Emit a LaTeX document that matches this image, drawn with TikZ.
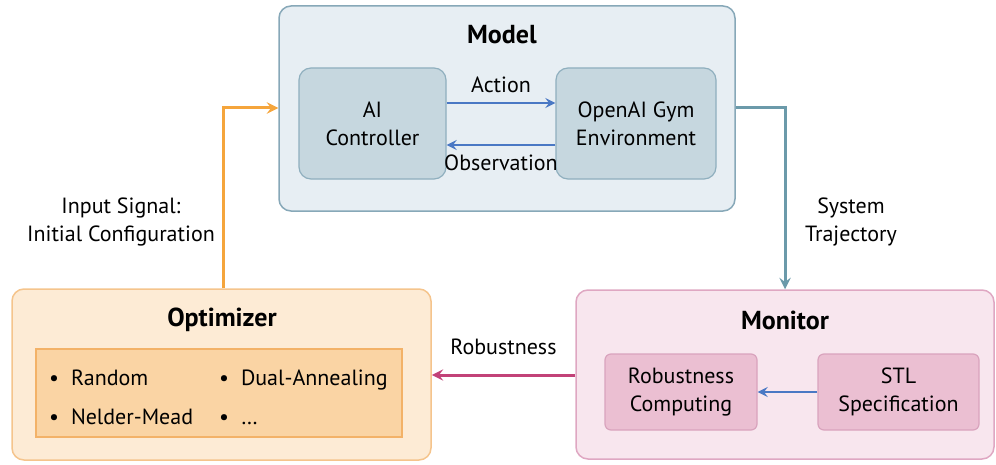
\documentclass[tikz,border=0pt]{standalone}
\usepackage{fontspec}
\setmainfont{PT Sans}
\usepackage{xcolor}
\usetikzlibrary{calc}

\definecolor{modelfill}{HTML}{E7EEF3}
\definecolor{modeldraw}{HTML}{87A8B8}
\definecolor{partfill}{HTML}{C6D7DF}
\definecolor{partdraw}{HTML}{8FAFBE}
\definecolor{optfill}{HTML}{FDEBD5}
\definecolor{optdraw}{HTML}{F5C48C}
\definecolor{listfill}{HTML}{FAD4A4}
\definecolor{listdraw}{HTML}{F3B268}
\definecolor{monfill}{HTML}{F8E6EE}
\definecolor{mondraw}{HTML}{DFA7C2}
\definecolor{subfill}{HTML}{EBBFD2}
\definecolor{subdraw}{HTML}{D9A3BD}
\definecolor{inarrow}{HTML}{F5A53C}
\definecolor{trajarrow}{HTML}{6B9AAA}
\definecolor{robarrow}{HTML}{C24278}
\definecolor{inner}{HTML}{4A78C4}

\begin{document}
\begin{tikzpicture}[x=0.5pt, y=-0.5pt, >=stealth,
		font=\fontsize{11}{14}\selectfont,
		group/.style={draw, line width=0.75pt, rounded corners=6pt, inner sep=0pt},
		part/.style={draw, line width=0.6pt, rounded corners=6pt, inner sep=0pt,
				align=center},
		title/.style={font=\fontsize{13}{15}\selectfont\bfseries},
		lbl/.style={align=center, text=black},
		item/.style={anchor=west, text height=1.6ex, text depth=0.4ex},
		flow/.style={->, line width=1.5pt},
		link/.style={->, line width=1.2pt, inner}]
	\useasboundingbox (0, 0) rectangle (996, 465);

	% model
	\node (model) [group, fill=modelfill, draw=modeldraw,
		minimum width=228pt, minimum height=102.5pt] at (507, 108.5) {};
	\node (modeltitle) [title] at (502, 35) {Model};
	\node (ctrl) [part, fill=partfill, draw=partdraw,
		minimum width=73.5pt, minimum height=55.5pt] at (372.5, 123.5) {AI\\Controller};
	\node (gym) [part, fill=partfill, draw=partdraw,
		minimum width=80pt, minimum height=55.5pt] at (636, 123.5) {OpenAI Gym\\Environment};

	% optimizer
	\node (opt) [group, fill=optfill, draw=optdraw,
		minimum width=209.5pt, minimum height=85.5pt] at (221.5, 374.5) {};
	\node (opttitle) [title] at (222, 320) {Optimizer};
	\node (list) [draw=listdraw, fill=listfill, line width=0.6pt,
		minimum width=183pt, minimum height=44pt] at (219, 393) {};
	\foreach \t/\x/\y in {Random/50/379, Dual-Annealing/220/379,
			Nelder-Mead/50/418, {\dots}/220/418} {
			\node (item-\x-\y) [item] at (\x - 8, \y) {\textbullet\hspace{6pt}\t};
		}

	% monitor
	\node (mon) [group, fill=monfill, draw=mondraw,
		minimum width=209pt, minimum height=84.5pt] at (785, 374.5) {};
	\node (montitle) [title] at (785, 320) {Monitor};
	\node (robc) [part, fill=subfill, draw=subdraw, rounded corners=3pt,
		minimum width=76pt, minimum height=38pt] at (681, 392) {Robustness\\Computing};
	\node (stl) [part, fill=subfill, draw=subdraw, rounded corners=3pt,
		minimum width=80.5pt, minimum height=38pt] at (898.5, 392) {STL\\Specification};

	% inner links
	\draw [link] (ctrl.east |- 0, 103) -- (gym.west |- 0, 103)
		node [lbl, midway, above=1pt] (action) {Action};
	\draw [link] (gym.west |- 0, 145) -- (ctrl.east |- 0, 145)
		node [lbl, midway, below=1pt] (obs) {Observation};
	\draw [link] (stl) -- (robc);

	% outer flow
	\draw [flow, inarrow] (opt.north -| 223, 0) -- (223, 108) -- (model.west |- 0, 108);
	\draw [flow, trajarrow] (model.east |- 0, 108) -- (785, 108) -- (mon.north);
	\draw [flow, robarrow] (mon.west |- 0, 375) -- (opt.east |- 0, 375)
		node [lbl, midway, above=6pt] (rob) {Robustness};

	\node (insig) [lbl] at (121, 222) {Input Signal:\\Initial Configuration};
	\node (traj) [lbl] at (851, 222) {System\\Trajectory};
\end{tikzpicture}
\end{document}
